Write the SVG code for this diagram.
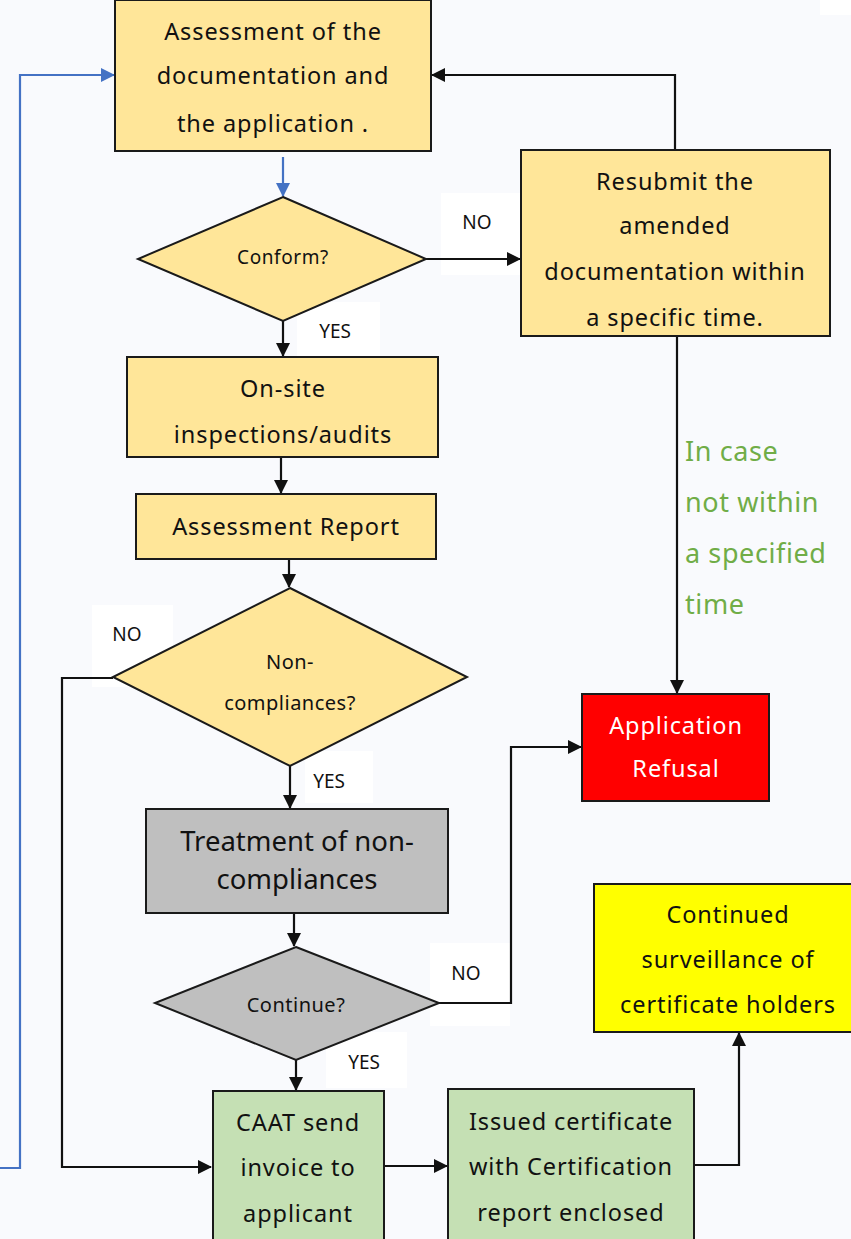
<svg xmlns="http://www.w3.org/2000/svg" width="851" height="1239" viewBox="0 0 851 1239">
<style>
.bg{fill:#F9FAFD}
.lab{fill:#FFFFFF}
.box{stroke:#1A1A1A;stroke-width:2}
.y{fill:#FFE699}
.g{fill:#BFBFBF}
.gr{fill:#C5E0B4}
.r{fill:#FF0000}
.yy{fill:#FFFF00}
text{font-family:"Noto Sans","Open Sans","DejaVu Sans",sans-serif;text-anchor:middle;dominant-baseline:central;fill:#111111}
.t22{font-size:23.5px;letter-spacing:0.9px}
.t19{font-size:20px;letter-spacing:0.5px}
.t17{font-size:19px;letter-spacing:0.6px}
.tl{font-size:19px}
.t26{font-size:27.5px}
.w{fill:#FFFFFF}
.note{font-size:27px;fill:#70AD47;text-anchor:start;letter-spacing:0.6px}
.c{fill:none;stroke:#111111;stroke-width:2.2}
.cb{fill:none;stroke:#4472C4;stroke-width:2.2}
</style>
<defs>
<marker id="ah" markerWidth="14" markerHeight="14" refX="13" refY="7" orient="auto" markerUnits="userSpaceOnUse">
<path d="M0,0 L14,7 L0,14 Z" fill="#111111"/>
</marker>
<marker id="ahb" markerWidth="14" markerHeight="14" refX="13" refY="7" orient="auto" markerUnits="userSpaceOnUse">
<path d="M0,0 L14,7 L0,14 Z" fill="#4472C4"/>
</marker>
</defs>
<rect class="bg" x="0" y="0" width="851" height="1239"/>
<rect class="lab" x="820" y="0" width="31" height="15"/>

<!-- label backgrounds -->
<rect class="lab" x="441" y="193" width="79" height="82"/>
<rect class="lab" x="297" y="302" width="83" height="58"/>
<rect class="lab" x="92" y="605" width="81" height="82"/>
<rect class="lab" x="305" y="751" width="68" height="52"/>
<rect class="lab" x="430" y="943" width="80" height="83"/>
<rect class="lab" x="326" y="1032" width="81" height="56"/>

<g id="connectors">
<path class="cb" d="M283,157 L283,196" marker-end="url(#ahb)"/>
<path class="cb" d="M0,1168 L20,1168 L20,75 L114,75" marker-end="url(#ahb)"/>
<path class="c" d="M675,150 L675,75 L432,75" marker-end="url(#ah)"/>
<path class="c" d="M426,259 L520,259" marker-end="url(#ah)"/>
<path class="c" d="M283,321 L283,356" marker-end="url(#ah)"/>
<path class="c" d="M281,457 L281,493" marker-end="url(#ah)"/>
<path class="c" d="M289,559 L289,587" marker-end="url(#ah)"/>
<path class="c" d="M290,766 L290,808" marker-end="url(#ah)"/>
<path class="c" d="M113,678 L62,678 L62,1167 L211,1167" marker-end="url(#ah)"/>
<path class="c" d="M294,913 L294,946" marker-end="url(#ah)"/>
<path class="c" d="M439,1003 L511,1003 L511,747 L581,747" marker-end="url(#ah)"/>
<path class="c" d="M296,1060 L296,1090" marker-end="url(#ah)"/>
<path class="c" d="M677,336 L677,693" marker-end="url(#ah)"/>
<path class="c" d="M385,1166 L447,1166" marker-end="url(#ah)"/>
<path class="c" d="M694,1165 L739,1165 L739,1033" marker-end="url(#ah)"/>
</g>

<g id="n-assess">
<rect class="box y" x="115" y="0" width="316" height="151"/>
<text class="t22" x="273" y="31">Assessment of the</text>
<text class="t22" x="273" y="75">documentation and</text>
<text class="t22" x="273" y="123">the application .</text>
</g>

<g id="n-conform">
<polygon class="box y" points="283,197 426,259 283,321 138,259"/>
<text class="t17" x="283" y="257">Conform?</text>
</g>

<g id="n-resubmit">
<rect class="box y" x="521" y="150" width="309" height="186"/>
<text class="t22" x="675" y="181">Resubmit the</text>
<text class="t22" x="675" y="225">amended</text>
<text class="t22" x="675" y="271">documentation within</text>
<text class="t22" x="675" y="317">a specific time.</text>
</g>

<g id="n-onsite">
<rect class="box y" x="127" y="357" width="311" height="100"/>
<text class="t22" x="283" y="388">On-site</text>
<text class="t22" x="283" y="434">inspections/audits</text>
</g>

<g id="n-report">
<rect class="box y" x="136" y="494" width="300" height="65"/>
<text class="t22" x="286" y="526">Assessment Report</text>
</g>

<g id="n-noncomp">
<polygon class="box y" points="290,588 467,677 290,766 113,677"/>
<text class="t19" x="290" y="661">Non-</text>
<text class="t19" x="290" y="702">compliances?</text>
</g>

<g id="n-treatment">
<rect class="box g" x="146" y="809" width="302" height="104"/>
<text class="t26" x="297" y="840">Treatment of non-</text>
<text class="t26" x="297" y="878">compliances</text>
</g>

<g id="n-continue">
<polygon class="box g" points="296,947 439,1003 296,1060 155,1003"/>
<text class="t19" x="296" y="1004">Continue?</text>
</g>

<g id="n-refusal">
<rect class="box r" x="582" y="694" width="187" height="107"/>
<text class="t22 w" x="676" y="725">Application</text>
<text class="t22 w" x="676" y="768">Refusal</text>
</g>

<g id="n-surveillance">
<rect class="box yy" x="594" y="884" width="260" height="148"/>
<text class="t22" x="728" y="914">Continued</text>
<text class="t22" x="728" y="959">surveillance of</text>
<text class="t22" x="728" y="1004">certificate holders</text>
</g>

<g id="n-invoice">
<rect class="box gr" x="213" y="1091" width="171" height="160"/>
<text class="t22" x="298" y="1122">CAAT send</text>
<text class="t22" x="298" y="1167">invoice to</text>
<text class="t22" x="298" y="1213">applicant</text>
</g>

<g id="n-issued">
<rect class="box gr" x="448" y="1089" width="246" height="160"/>
<text class="t22" x="571" y="1121">Issued certificate</text>
<text class="t22" x="571" y="1166">with Certification</text>
<text class="t22" x="571" y="1212">report enclosed</text>
</g>

<g id="labels">
<text class="tl" x="477" y="222">NO</text>
<text class="tl" x="335" y="331">YES</text>
<text class="tl" x="127" y="634">NO</text>
<text class="tl" x="329" y="781">YES</text>
<text class="tl" x="466" y="973">NO</text>
<text class="tl" x="364" y="1062">YES</text>
<text class="note" x="685" y="450">In case</text>
<text class="note" x="685" y="501">not within</text>
<text class="note" x="685" y="552">a specified</text>
<text class="note" x="685" y="603">time</text>
</g>
</svg>
